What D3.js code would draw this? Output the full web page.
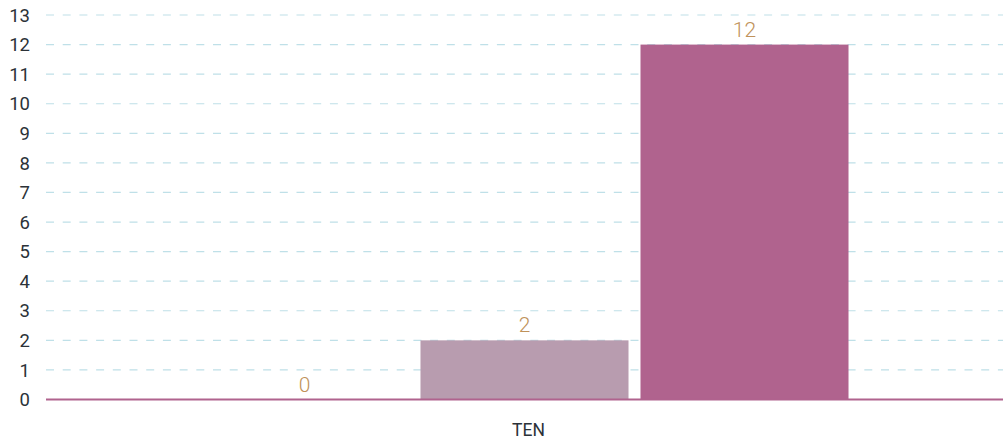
<!DOCTYPE html>
<html><head><meta charset="utf-8">
<script src="https://cdn.jsdelivr.net/npm/d3@7/dist/d3.min.js"></script>
<style>body{margin:0;background:#fff}svg{display:block}</style>
</head><body>
<svg id="c" width="1003" height="443"></svg>
<script>
const categories = ["TEN"];
const seriesNames = ["A", "B", "C"];
const seriesValues = [[0], [2], [12]];
const seriesColors = ["#c9a3bb", "#b89caf", "#b0638e"];
const yTicks = d3.range(0, 14);

(function () {
const svg = d3.select("#c");
const mLeft = 46, mRight = 1003, mTop = 15, mBottom = 399.5;
const y = d3.scaleLinear().domain([0, 13]).range([mBottom, mTop]);
const x0 = d3.scaleBand().domain(categories).range([mLeft, mRight]).paddingOuter(0.2384).paddingInner(0);
const x1 = d3.scaleBand().domain(seriesNames).range([0, x0.bandwidth()]).paddingInner(0.0545).paddingOuter(0);

// grid
svg.append("g").selectAll("line").data(yTicks.filter(d => d > 0)).join("line")
  .attr("x1", mLeft).attr("x2", mRight)
  .attr("y1", d => y(d)).attr("y2", d => y(d))
  .attr("stroke", "#bfe0e8").attr("stroke-width", 1.2).attr("stroke-dasharray", "8,8.7");

// y tick labels
svg.append("g").selectAll("text").data(yTicks).join("text")
  .attr("x", 30).attr("y", d => y(d)).attr("dy", "0.36em")
  .attr("text-anchor", "end")
  .attr("font-family", "Roboto, sans-serif").attr("font-size", 18.5)
  .attr("fill", "#2b3238").text(d => d);

// bars
const g = svg.append("g").selectAll("g").data(categories).join("g")
  .attr("transform", d => `translate(${x0(d)},0)`);
seriesNames.forEach((s, i) => {
  const v = seriesValues[i][0];
  g.append("rect")
    .attr("x", x1(s)).attr("width", x1.bandwidth())
    .attr("y", y(v)).attr("height", y(0) - y(v))
    .attr("fill", seriesColors[i]);
  g.append("text")
    .attr("x", x1(s) + x1.bandwidth() / 2).attr("y", y(v) - 8)
    .attr("text-anchor", "middle")
    .attr("font-family", "Roboto, sans-serif").attr("font-size", 21).attr("font-weight", 300)
    .attr("fill", "#c0925a").text(v);
});

// baseline
svg.append("line").attr("x1", mLeft).attr("x2", mRight)
  .attr("y1", y(0)).attr("y2", y(0))
  .attr("stroke", "#b0638e").attr("stroke-width", 2);

// category labels
svg.append("g").selectAll("text").data(categories).join("text")
  .attr("x", d => x0(d) + x0.bandwidth() / 2 + 4).attr("y", 436)
  .attr("text-anchor", "middle")
  .attr("font-family", "Roboto, sans-serif").attr("font-size", 17.5)
  .attr("fill", "#2b3238").text(d => d);
})();
</script>
</body></html>
